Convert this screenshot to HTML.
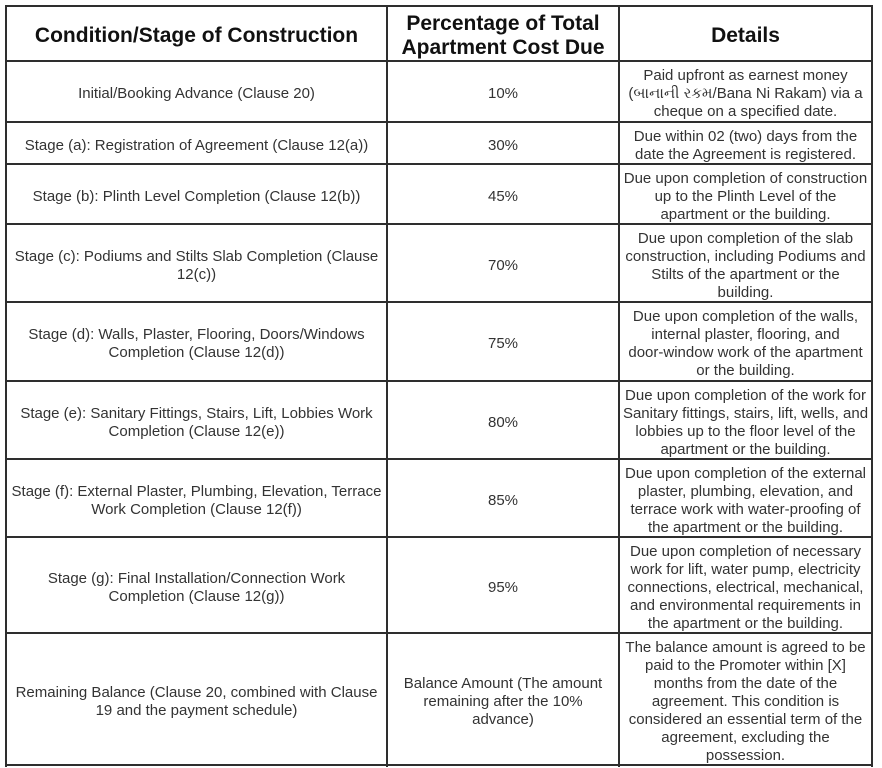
<!DOCTYPE html>
<html>
<head>
<meta charset="utf-8">
<style>
html,body{margin:0;padding:0;background:#fff;}
body{width:882px;height:768px;position:relative;overflow:hidden;font-family:"Liberation Sans",Arial,sans-serif;}
.h{position:absolute;height:2px;background:#2e2e2e;left:5px;width:868px;}
.v{position:absolute;width:2px;background:#2e2e2e;top:5px;height:762px;}
.c{position:absolute;display:flex;align-items:center;justify-content:center;text-align:center;white-space:nowrap;color:#333;font-size:15px;line-height:18px;box-sizing:border-box;padding-top:4px;}
.hd{font-weight:bold;font-size:21px;line-height:24px;color:#111;}
.c1{left:7px;width:379px;}
.c2{left:388px;width:230px;}
.c3{left:620px;width:251px;}
</style>
</head>
<body>
<div class="h" style="top:5px"></div>
<div class="h" style="top:60px"></div>
<div class="h" style="top:121px"></div>
<div class="h" style="top:163px"></div>
<div class="h" style="top:223px"></div>
<div class="h" style="top:301px"></div>
<div class="h" style="top:380px"></div>
<div class="h" style="top:458px"></div>
<div class="h" style="top:536px"></div>
<div class="h" style="top:632px"></div>
<div class="h" style="top:764px"></div>
<div class="v" style="left:5px"></div>
<div class="v" style="left:386px"></div>
<div class="v" style="left:618px"></div>
<div class="v" style="left:871px"></div>

<!-- header -->
<div class="c c1 hd" style="top:7px;height:54px">Condition/Stage of Construction</div>
<div class="c c2 hd" style="top:7px;height:54px">Percentage of Total<br>Apartment Cost Due</div>
<div class="c c3 hd" style="top:7px;height:54px">Details</div>

<!-- row 1 -->
<div class="c c1" style="top:62px;height:60px">Initial/Booking Advance (Clause 20)</div>
<div class="c c2" style="top:62px;height:60px">10%</div>
<div class="c c3" style="top:62px;height:60px">Paid upfront as earnest money<br>(બાનાની રકમ/Bana Ni Rakam) via a<br>cheque on a specified date.</div>

<!-- row a -->
<div class="c c1" style="top:123px;height:41px">Stage (a): Registration of Agreement (Clause 12(a))</div>
<div class="c c2" style="top:123px;height:41px">30%</div>
<div class="c c3" style="top:123px;height:41px">Due within 02 (two) days from the<br>date the Agreement is registered.</div>

<!-- row b -->
<div class="c c1" style="top:165px;height:59px">Stage (b): Plinth Level Completion (Clause 12(b))</div>
<div class="c c2" style="top:165px;height:59px">45%</div>
<div class="c c3" style="top:165px;height:59px">Due upon completion of construction<br>up to the Plinth Level of the<br>apartment or the building.</div>

<!-- row c -->
<div class="c c1" style="top:225px;height:77px">Stage (c): Podiums and Stilts Slab Completion (Clause<br>12(c))</div>
<div class="c c2" style="top:225px;height:77px">70%</div>
<div class="c c3" style="top:225px;height:77px">Due upon completion of the slab<br>construction, including Podiums and<br>Stilts of the apartment or the<br>building.</div>

<!-- row d -->
<div class="c c1" style="top:303px;height:78px">Stage (d): Walls, Plaster, Flooring, Doors/Windows<br>Completion (Clause 12(d))</div>
<div class="c c2" style="top:303px;height:78px">75%</div>
<div class="c c3" style="top:303px;height:78px">Due upon completion of the walls,<br>internal plaster, flooring, and<br>door-window work of the apartment<br>or the building.</div>

<!-- row e -->
<div class="c c1" style="top:382px;height:77px">Stage (e): Sanitary Fittings, Stairs, Lift, Lobbies Work<br>Completion (Clause 12(e))</div>
<div class="c c2" style="top:382px;height:77px">80%</div>
<div class="c c3" style="top:382px;height:77px">Due upon completion of the work for<br>Sanitary fittings, stairs, lift, wells, and<br>lobbies up to the floor level of the<br>apartment or the building.</div>

<!-- row f -->
<div class="c c1" style="top:460px;height:77px">Stage (f): External Plaster, Plumbing, Elevation, Terrace<br>Work Completion (Clause 12(f))</div>
<div class="c c2" style="top:460px;height:77px">85%</div>
<div class="c c3" style="top:460px;height:77px">Due upon completion of the external<br>plaster, plumbing, elevation, and<br>terrace work with water-proofing of<br>the apartment or the building.</div>

<!-- row g -->
<div class="c c1" style="top:538px;height:95px">Stage (g): Final Installation/Connection Work<br>Completion (Clause 12(g))</div>
<div class="c c2" style="top:538px;height:95px">95%</div>
<div class="c c3" style="top:538px;height:95px">Due upon completion of necessary<br>work for lift, water pump, electricity<br>connections, electrical, mechanical,<br>and environmental requirements in<br>the apartment or the building.</div>

<!-- last row -->
<div class="c c1" style="top:634px;height:131px">Remaining Balance (Clause 20, combined with Clause<br>19 and the payment schedule)</div>
<div class="c c2" style="top:634px;height:131px">Balance Amount (The amount<br>remaining after the 10%<br>advance)</div>
<div class="c c3" style="top:634px;height:131px">The balance amount is agreed to be<br>paid to the Promoter within [X]<br>months from the date of the<br>agreement. This condition is<br>considered an essential term of the<br>agreement, excluding the<br>possession.</div>
</body>
</html>
